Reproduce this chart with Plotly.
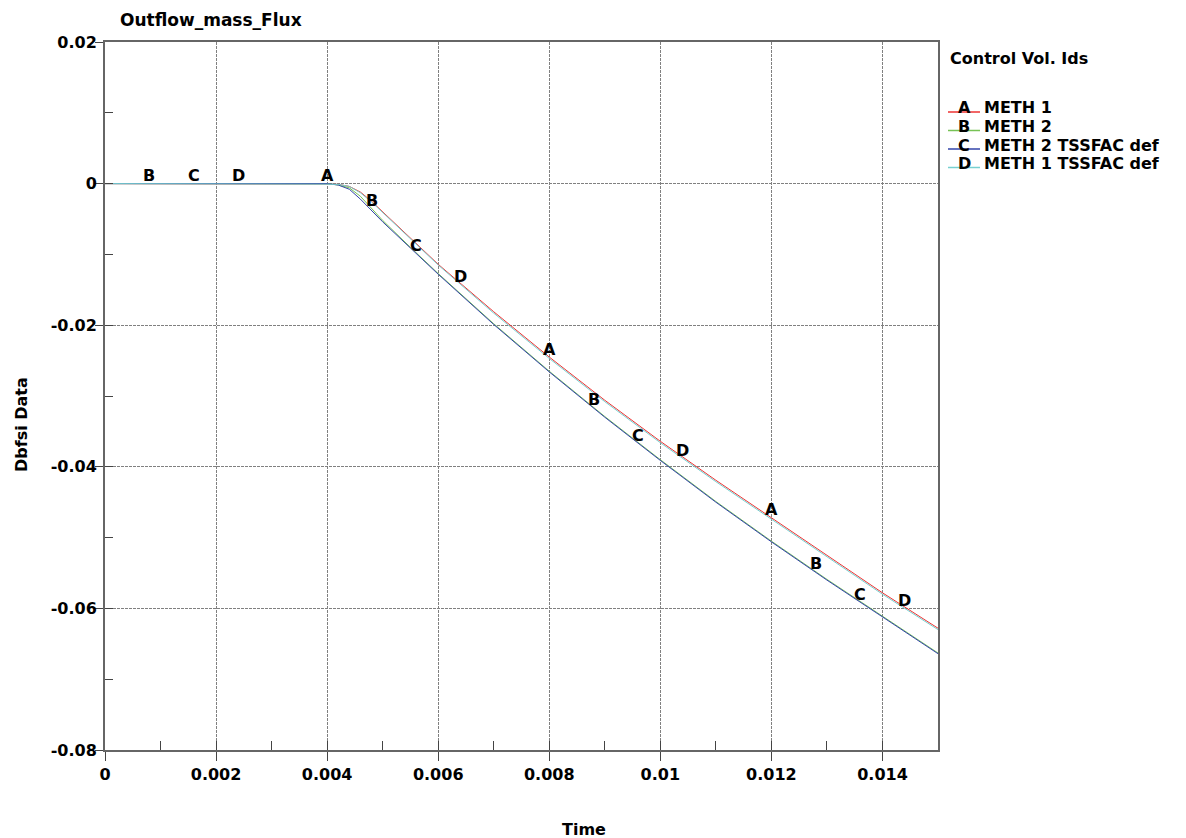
import numpy as np
import plotly.graph_objects as go

# ---------------- data ----------------
time = [0.0, 0.004, 0.0042, 0.0044, 0.0046, 0.0048, 0.005, 0.0055, 0.006,
        0.007, 0.008, 0.009, 0.010, 0.011, 0.012, 0.013, 0.014, 0.015]

meth1 = [0.0, 0.0, -0.0001, -0.0004, -0.0012, -0.0025, -0.0040, -0.0077, -0.0114,
         -0.0181, -0.0245, -0.0306, -0.0364, -0.0419, -0.0472, -0.0525, -0.0578, -0.0628]
meth2 = [0.0, 0.0, -0.0002, -0.0006, -0.0018, -0.0035, -0.0052, -0.0090, -0.0127,
         -0.0198, -0.0265, -0.0329, -0.0390, -0.0449, -0.0505, -0.0559, -0.0611, -0.0663]
meth2_tssfac = [0.0, 0.0, -0.0002, -0.0008, -0.0022, -0.0038, -0.0054, -0.0091, -0.0128,
                -0.0199, -0.0266, -0.0330, -0.0391, -0.0450, -0.0506, -0.0560, -0.0612, -0.0664]
meth1_tssfac = [0.0, 0.0, -0.0001, -0.0004, -0.0013, -0.0026, -0.0041, -0.0078, -0.0115,
                -0.0183, -0.0247, -0.0308, -0.0366, -0.0421, -0.0474, -0.0527, -0.0580, -0.0630]

series_ids = ["A", "B", "C", "D"]
series_names = ["METH 1", "METH 2", "METH 2 TSSFAC def", "METH 1 TSSFAC def"]
series_values = [meth1, meth2, meth2_tssfac, meth1_tssfac]
series_colors = ["#ee3333", "#77c255", "#3344aa", "#77d0d0"]

label_times = [
    [0.004, 0.008, 0.012],
    [0.0008, 0.0048, 0.0088, 0.0128],
    [0.0016, 0.0056, 0.0096, 0.0136],
    [0.0024, 0.0064, 0.0104, 0.0144],
]

x_ticks = [0, 0.002, 0.004, 0.006, 0.008, 0.01, 0.012, 0.014]
x_ticktext = ["0", "0.002", "0.004", "0.006", "0.008", "0.01", "0.012", "0.014"]
y_ticks = [0.02, 0, -0.02, -0.04, -0.06, -0.08]
y_ticktext = ["0.02", "0", "-0.02", "-0.04", "-0.06", "-0.08"]

# ---------------- layout constants ----------------
W, H = 1186, 838
L, R, T, B = 105, 938, 42, 750
FONT = "DejaVu Sans"


def px_x(p):
    return (p - L) / (R - L)


def px_y(p):
    return (B - p) / (B - T)


fig = go.Figure()

# draw order: A, B, C, D
for sid, name, vals, col in zip(series_ids, series_names, series_values, series_colors):
    fig.add_trace(go.Scatter(x=time, y=vals, mode="lines", name=name,
                             line=dict(color=col, width=1), showlegend=False))

# empty trace for the overlay axes (inside ticks)
fig.add_trace(go.Scatter(x=[], y=[], xaxis="x2", yaxis="y2", showlegend=False))

annotations = []
# curve identification letters
for sid, vals, lts in zip(series_ids, series_values, label_times):
    for t in lts:
        annotations.append(dict(x=t, y=float(np.interp(t, time, vals)), xref="x", yref="y",
                                text=sid, showarrow=False, yanchor="middle", yshift=8,
                                font=dict(family=FONT, size=16, color="black", weight="bold")))

# title
annotations.append(dict(x=px_x(118), y=px_y(20), xref="paper", yref="paper",
                        text="Outflow_mass_Flux", showarrow=False, xanchor="left", yanchor="middle",
                        font=dict(family=FONT, size=17, color="black", weight="bold")))
# axis titles
annotations.append(dict(x=px_x(584), y=px_y(829), xref="paper", yref="paper",
                        text="Time", showarrow=False, xanchor="center", yanchor="middle",
                        font=dict(family=FONT, size=16, color="black", weight="bold")))
annotations.append(dict(x=px_x(21), y=px_y(425), xref="paper", yref="paper",
                        text="Dbfsi Data", showarrow=False, textangle=-90,
                        xanchor="center", yanchor="middle",
                        font=dict(family=FONT, size=16, color="black", weight="bold")))
# legend
annotations.append(dict(x=px_x(948), y=px_y(59), xref="paper", yref="paper",
                        text="Control Vol. Ids", showarrow=False, xanchor="left", yanchor="middle",
                        font=dict(family=FONT, size=16, color="black", weight="bold")))
shapes = []
for i, (sid, name, col) in enumerate(zip(series_ids, series_names, series_colors)):
    yc = 108 + i * 18.5
    annotations.append(dict(x=px_x(964), y=px_y(yc), xref="paper", yref="paper",
                            text=sid, showarrow=False, xanchor="center", yanchor="middle",
                            font=dict(family=FONT, size=16, color="black", weight="bold")))
    annotations.append(dict(x=px_x(982), y=px_y(yc), xref="paper", yref="paper",
                            text=name, showarrow=False, xanchor="left", yanchor="middle",
                            font=dict(family=FONT, size=16, color="black", weight="bold")))
    shapes.append(dict(type="line", xref="paper", yref="paper",
                       x0=px_x(948), x1=px_x(980), y0=px_y(yc + 4), y1=px_y(yc + 4),
                       line=dict(color=col, width=1.5)))

grid = dict(showgrid=True, gridcolor="#808080", gridwidth=1, griddash="3px,1px")
axis_line = dict(showline=True, linecolor="#666666", linewidth=2, mirror=True, zeroline=False)
tickfont = dict(family=FONT, size=16, color="black", weight="bold")

fig.update_layout(
    width=W, height=H,
    margin=dict(l=L, r=W - R, t=T, b=H - B, pad=0),
    paper_bgcolor="white", plot_bgcolor="white",
    showlegend=False,
    annotations=annotations, shapes=shapes,
    xaxis=dict(range=[0, 0.015], tickvals=x_ticks, ticktext=x_ticktext,
               ticks="outside", ticklen=9, tickcolor="#444444", tickwidth=1,
               tickfont=tickfont, **grid, **axis_line),
    yaxis=dict(range=[-0.08, 0.02], tickvals=y_ticks, ticktext=y_ticktext,
               ticks="outside", ticklen=8, tickcolor="#444444", tickwidth=1,
               ticklabelstandoff=-5,
               tickfont=tickfont, **grid, **axis_line),
    xaxis2=dict(range=[0, 0.015], overlaying="x", side="bottom", anchor="y",
                tick0=0, dtick=0.001, ticks="inside", ticklen=9, tickcolor="#444444",
                tickwidth=1, showticklabels=False, showgrid=False, zeroline=False, showline=False),
    yaxis2=dict(range=[-0.08, 0.02], overlaying="y", side="left", anchor="x",
                tick0=0, dtick=0.01, ticks="inside", ticklen=8, tickcolor="#444444",
                tickwidth=1, showticklabels=False, showgrid=False, zeroline=False, showline=False),
)

fig.write_html("out.html", config={"displayModeBar": False},
               post_script="document.body.style.margin='0';")
